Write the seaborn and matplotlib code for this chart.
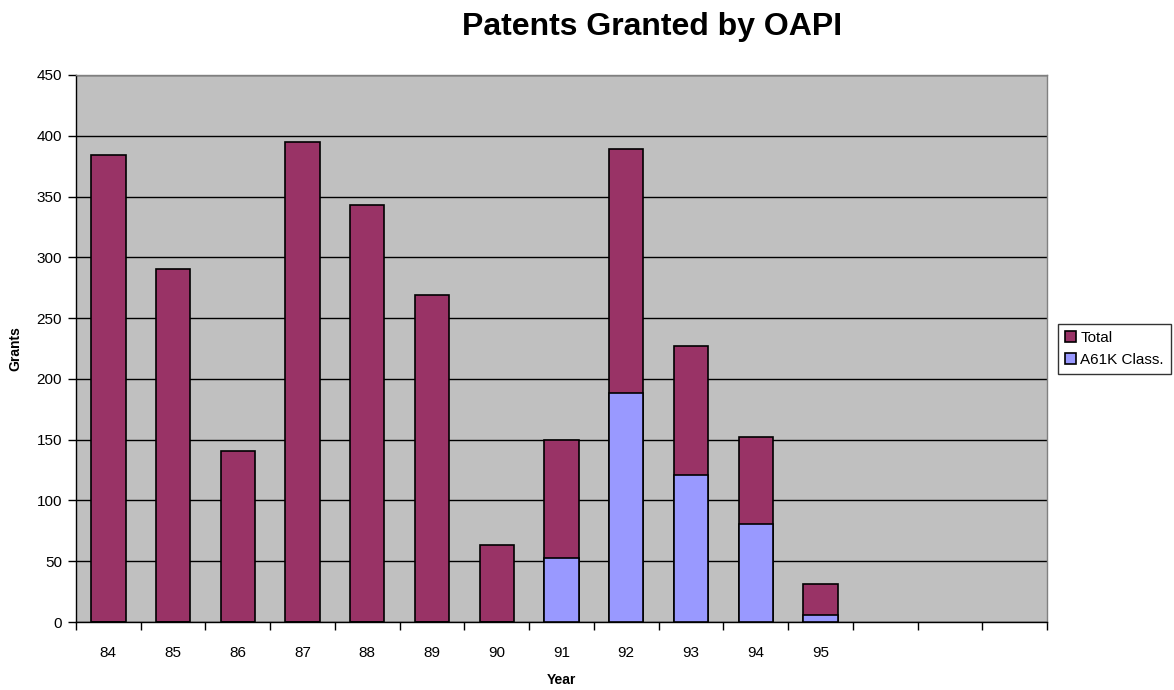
import matplotlib
matplotlib.use("Agg")
import matplotlib.pyplot as plt
import seaborn as sns
import pandas as pd
import numpy as np

years = ["84", "85", "86", "87", "88", "89", "90", "91", "92", "93", "94", "95"]
total = [384, 290, 141, 395, 343, 269, 63, 150, 389, 227, 152, 31]
a61k = [0, 0, 0, 0, 0, 0, 0, 53, 188, 121, 81, 6]
n_slots = 15

sns.set_theme(style="white")
plt.rcParams['font.family'] = ['Liberation Sans', 'DejaVu Sans']
plt.rcParams['text.color'] = 'black'
plt.rcParams['axes.labelcolor'] = 'black'
plt.rcParams['xtick.color'] = 'black'
plt.rcParams['ytick.color'] = 'black'

fig = plt.figure(figsize=(11.74, 6.9), dpi=100)
ax = fig.add_axes([76/1174, 68/690, 971/1174, 547/690])
ax.set_facecolor("#C0C0C0")

df_t = pd.DataFrame({"Year": years, "Grants": total})
df_a = pd.DataFrame({"Year": years, "Grants": a61k})

sns.barplot(data=df_t, x="Year", y="Grants", order=years, color="#993366",
            width=0.53, edgecolor="black", linewidth=1.2, saturation=1, ax=ax,
            label="Total", zorder=3)
sns.barplot(data=df_a, x="Year", y="Grants", order=years, color="#9999FF",
            width=0.53, edgecolor="black", linewidth=1.2, saturation=1, ax=ax,
            label="A61K Class.", zorder=4)

ax.set_xlim(-0.5, n_slots - 0.5)
ax.set_ylim(0, 450)
ax.set_yticks(np.arange(0, 451, 50))
ax.yaxis.grid(True, color="black", linewidth=1, zorder=1)
ax.set_axisbelow(True)

ax.set_xticks(np.arange(-0.5, n_slots, 1.0))
ax.set_xticklabels([])
ax.set_xticks(np.arange(len(years)), minor=True)
ax.set_xticklabels(years, minor=True)
ax.tick_params(axis="x", which="major", length=6, width=1, color="black", direction="out", bottom=True)
ax.tick_params(axis="x", which="minor", length=0, pad=17, labelsize=11, labelcolor="black")
ax.tick_params(axis="y", length=6, width=1, color="black", direction="out", left=True,
               labelsize=11, pad=4, labelcolor="black")

for s in ["top", "right"]:
    ax.spines[s].set_color("#808080")
    ax.spines[s].set_linewidth(1)
for s in ["left", "bottom"]:
    ax.spines[s].set_color("black")
    ax.spines[s].set_linewidth(1)

ax.set_xlabel("Year", fontsize=10, fontweight="bold", labelpad=10, color="black")
ax.set_ylabel("Grants", fontsize=10, fontweight="bold", labelpad=10, color="black")

fig.text(652/1174, 1 - 27/690, "Patents Granted by OAPI", fontsize=23, fontweight="bold",
         ha="center", va="center", color="black")

leg = ax.legend(loc="center left", fontsize=11, frameon=True, fancybox=False,
                edgecolor="black", handlelength=0.7, handleheight=0.7, handletextpad=0.3,
                borderpad=0.45, labelspacing=0.5, borderaxespad=0)
leg.set_bbox_to_anchor((1058/1174, 1 - 349/690), transform=fig.transFigure)
leg.get_frame().set_linewidth(1)
for t in leg.get_texts():
    t.set_color("black")

fig.savefig("out.png", dpi=100, facecolor="white")
